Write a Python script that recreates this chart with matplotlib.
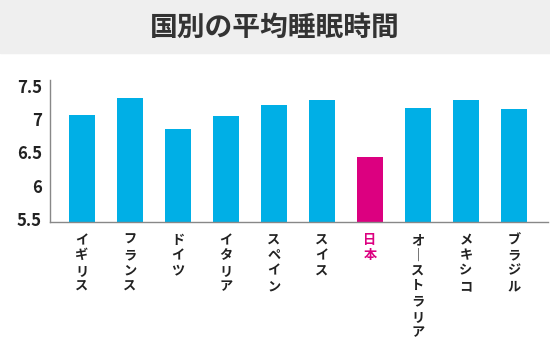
import matplotlib.pyplot as plt

plt.rcParams['font.family'] = ['Noto Sans CJK JP', 'DejaVu Sans']

countries = ["イギリス", "フランス", "ドイツ", "イタリア", "スペイン",
             "スイス", "日本", "オーストラリア", "メキシコ", "ブラジル"]
hours = [7.06, 7.32, 6.85, 7.05, 7.21, 7.29, 6.43, 7.17, 7.29, 7.15]
yticks = [5.5, 6, 6.5, 7, 7.5]
ytick_labels = ["5.5", "6", "6.5", "7", "7.5"]

blue = "#00afe6"
pink = "#dc0080"
colors = [pink if c == "日本" else blue for c in countries]

fig = plt.figure(figsize=(5.5, 3.53), dpi=100)
fig.patch.set_facecolor("white")

# gray title band
fig.patches.append(plt.Rectangle((0, 1 - 53 / 353), 1, 53 / 353,
                                 transform=fig.transFigure, color="#efefef", zorder=0))
fig.text(0.5, 1 - 28 / 353, "国別の平均睡眠時間", ha="center", va="center",
         fontsize=20, fontweight="bold", color="#333333")

ax = fig.add_axes([50 / 550, 131 / 353, 498 / 550, 142 / 353])
x = list(range(len(countries)))
ax.bar(x, [h - 5.4 for h in hours], bottom=5.4, width=0.54, color=colors)
ax.set_xlim(-0.667, 9.71)
ax.set_ylim(5.455, 7.59)

ax.set_yticks(yticks)
ax.set_yticklabels(ytick_labels, fontsize=12, fontweight="bold", color="#222222")

def vertical(name):
    return "\n".join("｜" if ch == "ー" else ch for ch in name)

ax.set_xticks(x)
ax.set_xticklabels([vertical(c) for c in countries], fontsize=9.5,
                   fontweight="bold", va="top", linespacing=1.12)
for lbl, c in zip(ax.get_xticklabels(), countries):
    lbl.set_color(pink if c == "日本" else "#222222")

ax.tick_params(axis="both", length=0)
ax.tick_params(axis="y", pad=6)
ax.tick_params(axis="x", pad=8)
for side in ["top", "right"]:
    ax.spines[side].set_visible(False)
for side in ["left", "bottom"]:
    ax.spines[side].set_color("#888888")
    ax.spines[side].set_linewidth(1)

fig.savefig("out.png", dpi=100)
